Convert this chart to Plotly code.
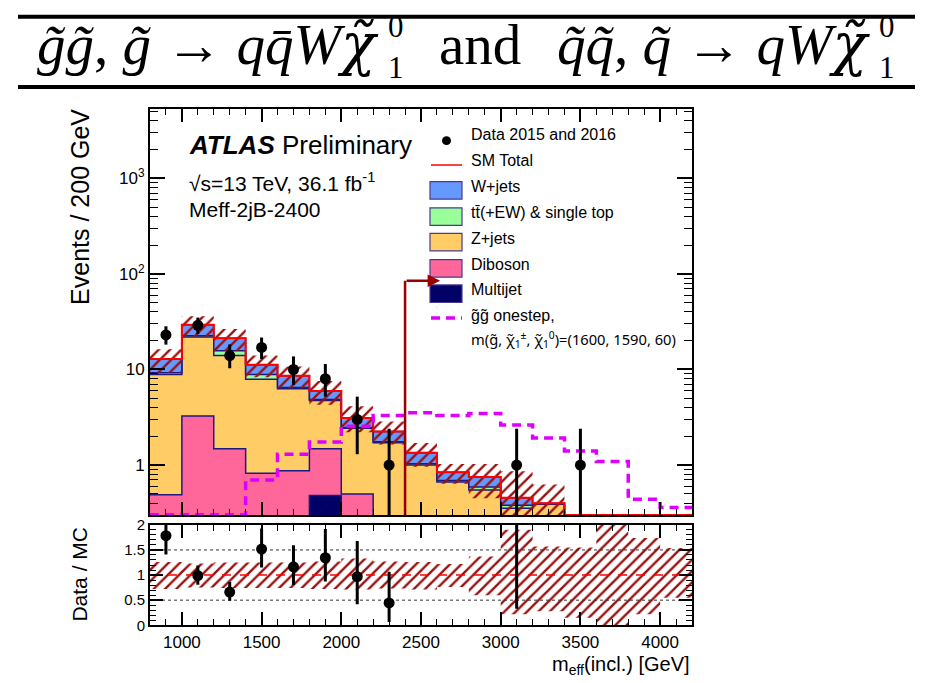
import math
import plotly.graph_objects as go

# ---------------- binning (200 GeV bins, 800-4200 GeV) ----------------
edges = [800, 1000, 1200, 1400, 1600, 1800, 2000, 2200, 2400, 2600,
         2800, 3000, 3200, 3400, 3600, 3800, 4000, 4200]
centers = [900, 1100, 1300, 1500, 1700, 1900, 2100, 2300, 2500, 2700,
           2900, 3100, 3300, 3500, 3700, 3900, 4100]

# ---------------- background expectations (events / bin) ----------------
multijet = [0, 0, 0, 0, 0, 0.48, 0, 0, 0, 0, 0, 0, 0, 0, 0, 0, 0]
diboson = [0.49, 3.26, 1.48, 0.82, 0.875, 1.0, 0.5, 0, 0, 0, 0, 0, 0, 0, 0, 0, 0]
zjets = [8.36, 18.64, 12.52, 7.08, 5.42, 3.27, 1.93, 1.71, 1.0, 0.665, 0.55, 0.354, 0.39, 0, 0, 0, 0]
ttbar = [0.42, 0.7, 1.7, 0.95, 0.2, 0.1, 0.05, 0.04, 0.03, 0.025, 0.04, 0.026, 0, 0, 0, 0, 0]
wjets = [3.63, 6.7, 5.5, 2.35, 2.1, 1.1, 0.62, 0.5, 0.32, 0.15, 0.16, 0.075, 0.008, 0, 0, 0, 0]

# relative MC uncertainty band (ratio units)
band_hi = [1.26, 1.23, 1.25, 1.25, 1.25, 1.27, 1.33, 1.27, 1.26, 1.22, 1.37, 1.90, 1.57, 1.55, 2.05, 1.74, 1.54]
band_lo = [0.72, 0.75, 0.74, 0.74, 0.74, 0.72, 0.71, 0.73, 0.71, 0.76, 0.60, 0.22, 0.28, 0.15, 0.0, 0.22, 0.55]

# ---------------- signal ----------------
signal = [0.15, 0.15, 0.15, 0.70, 1.30, 1.74, 2.55, 3.31, 3.52, 3.31, 3.47, 2.63, 1.92, 1.40, 1.09, 0.44, 0.36]

# ---------------- data ----------------
data = [23, 29, 14, 17, 10, 8, 3, 1, 0, 0, 0, 1, 0, 1, 0, 0, 0]
data_err_up = [5.3, 5.9, 4.3, 4.6, 3.7, 3.4, 2.2, 1.4, 0, 0, 0, 1.4, 0, 1.4, 0, 0, 0]
data_err_dn = [4.8, 5.4, 3.7, 4.1, 3.1, 2.8, 1.7, 0.85, 0, 0, 0, 0.85, 0, 0.85, 0, 0, 0]

SR_CUT = 2400
SR_ARROW_END = 2620
SR_ARROW_Y = 85

W, H = 933, 683
YMIN, YMAX_LOG = 0.3, 3.72
FLOOR = 1e-2


def px(x):
    return x / W


def py(y):
    return 1 - y / H


def step(v):
    return list(v) + [v[-1]]


def floored(v, lo=FLOOR):
    return [max(a, lo) for a in v]


fig = go.Figure()

# ---------------- stacked backgrounds ----------------
stack = [
    ("Multijet", multijet, "#000066"),
    ("Diboson", diboson, "#ff6699"),
    ("Z+jets", zjets, "#ffcc66"),
    ("ttbar", ttbar, "#99ff99"),
    ("W+jets", wjets, "#6699ff"),
]
OUTLINE = "#1a1a80"

fig.add_trace(go.Scatter(x=edges, y=step([FLOOR] * 17), mode="lines", line=dict(width=0, shape="hv"),
                         hoverinfo="skip", xaxis="x", yaxis="y"))
cum = [0.0] * 17
for name, vals, col in stack:
    cum = [c + v for c, v in zip(cum, vals)]
    fig.add_trace(go.Scatter(
        x=edges, y=step(floored(cum)), mode="lines", name=name,
        line=dict(color=OUTLINE, width=1.5, shape="hv"),
        fill="tonexty", fillcolor=col, xaxis="x", yaxis="y"))
total = cum

# ---------------- MC uncertainty band (main) ----------------
HATCH = "#9a1010"
PATTERN = dict(shape="/", fgcolor=HATCH, fgopacity=1, bgcolor="rgba(0,0,0,0)",
               size=8, solidity=0.3, fillmode="overlay")
band_main_lo = [max(t * l, FLOOR) if t > 0 else FLOOR for t, l in zip(total, band_lo)]
band_main_hi = [max(t * h, FLOOR) if t > 0 else FLOOR for t, h in zip(total, band_hi)]
fig.add_trace(go.Scatter(x=edges, y=step(band_main_lo), mode="lines", line=dict(width=0, shape="hv"),
                         hoverinfo="skip", xaxis="x", yaxis="y"))
fig.add_trace(go.Scatter(
    x=edges, y=step(band_main_hi), mode="lines", line=dict(width=0, shape="hv"),
    fill="tonexty", fillcolor="rgba(0,0,0,0)", fillpattern=PATTERN, xaxis="x", yaxis="y"))

# SM total (sits on the frame bottom where it falls below the axis range)
fig.add_trace(go.Scatter(x=edges, y=step(floored(total, YMIN * 1.005)), mode="lines",
                         line=dict(color="#ff0000", width=2, shape="hv"), xaxis="x", yaxis="y"))

# signal
SIG_COL = "#dd00ff"
SIG_DASH = "9px,6px"
fig.add_trace(go.Scatter(x=edges, y=step(floored(signal, YMIN * 1.01)), mode="lines",
                         line=dict(color=SIG_COL, width=3.5, dash=SIG_DASH, shape="hv"),
                         xaxis="x", yaxis="y"))

# signal-region cut arrow
fig.add_trace(go.Scatter(x=[SR_CUT, SR_CUT], y=[FLOOR, SR_ARROW_Y], mode="lines",
                         line=dict(color="#990000", width=2.5), xaxis="x", yaxis="y"))

# data
dx = [c for c, d in zip(centers, data) if d > 0]
dy = [d for d in data if d > 0]
deu = [e for e, d in zip(data_err_up, data) if d > 0]
ded = [e for e, d in zip(data_err_dn, data) if d > 0]
fig.add_trace(go.Scatter(x=dx, y=dy, mode="markers",
                         marker=dict(color="black", size=11),
                         error_y=dict(type="data", array=deu, arrayminus=ded, color="black", thickness=3, width=0),
                         xaxis="x", yaxis="y"))

# ---------------- ratio panel ----------------
fig.add_trace(go.Scatter(x=edges, y=step(band_lo), mode="lines", line=dict(width=0, shape="hv"),
                         hoverinfo="skip", xaxis="x2", yaxis="y2"))
fig.add_trace(go.Scatter(
    x=edges, y=step(band_hi), mode="lines", line=dict(width=0, shape="hv"),
    fill="tonexty", fillcolor="rgba(0,0,0,0)", fillpattern=PATTERN, xaxis="x2", yaxis="y2"))
for lvl in (0.5, 1.5):
    fig.add_trace(go.Scatter(x=[800, 4200], y=[lvl, lvl], mode="lines",
                             line=dict(color="#333333", width=1, dash="dot"), xaxis="x2", yaxis="y2"))
fig.add_trace(go.Scatter(x=[800, 4200], y=[1, 1], mode="lines",
                         line=dict(color="#ff0000", width=1.5, dash="dash"), xaxis="x2", yaxis="y2"))

rx, ry, reu, red = [], [], [], []
for c, d, t, eu, ed in zip(centers, data, total, data_err_up, data_err_dn):
    if d > 0 and t > 0:
        rx.append(c)
        ry.append(d / t)
        reu.append(eu / t)
        red.append(ed / t)
fig.add_trace(go.Scatter(x=rx, y=ry, mode="markers",
                         marker=dict(color="black", size=11),
                         error_y=dict(type="data", array=reu, arrayminus=red, color="black", thickness=3, width=0),
                         xaxis="x2", yaxis="y2"))

# ---------------- axes ----------------
TICKFONT = dict(family="Liberation Sans, Arial, sans-serif", size=17, color="black")
xdom = [px(150), px(692)]
minor_x = [v for v in range(800, 4201, 100) if v % 500 != 0]
log_minor = [m * 10 ** k for k in range(-1, 4) for m in range(2, 10) if 0.3 <= m * 10 ** k <= 5300]

common_x = dict(range=[800, 4200], showgrid=False, zeroline=False, showline=True, linecolor="black",
                linewidth=2, mirror="allticks", ticks="inside", ticklen=13, tickwidth=1.5, tickcolor="black",
                tickvals=[1000, 1500, 2000, 2500, 3000, 3500, 4000],
                minor=dict(tickvals=minor_x, ticks="inside", ticklen=6, tickwidth=1.2, tickcolor="black"))

fig.update_layout(
    width=W, height=H, margin=dict(l=0, r=0, t=0, b=0),
    paper_bgcolor="white", plot_bgcolor="white", showlegend=False,
    xaxis=dict(domain=xdom, anchor="y", showticklabels=False, **common_x),
    yaxis=dict(domain=[py(519), py(103)], anchor="x", type="log", range=[math.log10(YMIN), YMAX_LOG],
               showgrid=False, zeroline=False, showline=True, linecolor="black", linewidth=2,
               mirror="allticks", ticks="inside", ticklen=15, tickwidth=1.5, tickcolor="black",
               tickvals=[1, 10, 100, 1000], ticktext=["1", "10", "10<sup>2</sup>", "10<sup>3</sup>"],
               tickfont=TICKFONT,
               minor=dict(tickvals=log_minor, ticks="inside", ticklen=8, tickwidth=1.2, tickcolor="black")),
    xaxis2=dict(domain=xdom, anchor="y2", tickfont=TICKFONT, **common_x),
    yaxis2=dict(domain=[py(632), py(529)], anchor="x2", range=[0, 2],
                showgrid=False, zeroline=False, showline=True, linecolor="black", linewidth=2,
                mirror="allticks", ticks="inside", ticklen=13, tickwidth=1.5, tickcolor="black",
                tickvals=[0, 0.5, 1, 1.5, 2], ticktext=["0", "0.5", "1", "1.5", "2"],
                tickfont=dict(family="Liberation Sans, Arial, sans-serif", size=15, color="black"),
                minor=dict(dtick=0.1, ticks="inside", ticklen=6, tickwidth=1.2, tickcolor="black")),
)

# ---------------- text ----------------
SANS = "Liberation Sans, Arial, sans-serif"
SERIF = "Liberation Serif, Times New Roman, serif"
ann = []


def text(x, y, s, size, xanchor="left", yanchor="middle", family=SANS, angle=0):
    ann.append(dict(x=px(x), y=py(y), xref="paper", yref="paper", text=s, showarrow=False,
                    xanchor=xanchor, yanchor=yanchor, textangle=angle,
                    font=dict(family=family, size=size, color="black")))


# title: two decay chains, each neutralino with stacked super/subscript
TY = 36
TS = 57
CHI = "<span style='font-family:DejaVu Serif'>χ̃</span>"
text(381, TY, f"<i>g̃g̃</i>, <i>g̃</i> → <i>qq̄W{CHI}</i>", TS, xanchor="right", family=SERIF)
text(396, 18, "0", 31, xanchor="center", family=SERIF)
text(396, 60, "1", 31, xanchor="center", family=SERIF)
text(437, TY, "and", TS, xanchor="left", family=SERIF)
text(872, TY, f"<i>q̃q̃</i>, <i>q̃</i> → <i>qW{CHI}</i>", TS, xanchor="right", family=SERIF)
text(887, 18, "0", 31, xanchor="center", family=SERIF)
text(887, 60, "1", 31, xanchor="center", family=SERIF)

# labels in the frame
text(187, 139, "<b><i>ATLAS</i></b> Preliminary", 26)
text(187, 177, "√s=13 TeV, 36.1 fb<sup>-1</sup>", 21)
text(187, 206, "Meff-2jB-2400", 21)

# legend
leg_rows = [
    (129, "Data 2015 and 2016", SANS, 16),
    (155, "SM Total", SANS, 16),
    (182, "W+jets", SANS, 16),
    (209, "tt̄(+EW) & single top", SANS, 16),
    (235, "Z+jets", SANS, 16),
    (262, "Diboson", SANS, 16),
    (288, "Multijet", SANS, 16),
    (314, "g̃g̃ onestep,", SANS, 16),
    (339, "m(g̃, χ̃<sub>1</sub><sup>±</sup>, χ̃<sub>1</sub><sup>0</sup>)=(1600, 1590, 60)",
     "Noto Sans, DejaVu Sans, sans-serif", 14.7),
]
for yy, s, fam, sz in leg_rows:
    text(469, yy, s, sz, family=fam)

# axis titles
text(80, 203, "Events / 200 GeV", 25, xanchor="center", angle=-90)
text(80, 580, "Data / MC", 21, xanchor="center", angle=-90)
text(692, 673, "m<sub>eff</sub>(incl.) [GeV]", 20, xanchor="right")

# signal-region arrow head
ann.append(dict(x=SR_ARROW_END, y=math.log10(SR_ARROW_Y), ax=SR_CUT, ay=math.log10(SR_ARROW_Y),
                xref="x", yref="y", axref="x", ayref="y", text="", showarrow=True,
                arrowhead=2, arrowsize=1, arrowwidth=2.5, arrowcolor="#990000", standoff=0, startstandoff=0))

fig.update_layout(annotations=ann)

# ---------------- shapes: title rules and legend keys ----------------
shapes = [
    dict(type="line", xref="paper", yref="paper", x0=px(18), x1=px(915), y0=py(8), y1=py(8),
         line=dict(color="black", width=4)),
    dict(type="line", xref="paper", yref="paper", x0=px(18), x1=px(915), y0=py(80), y1=py(80),
         line=dict(color="black", width=4)),
    dict(type="circle", xref="paper", yref="paper", x0=px(442), x1=px(451), y0=py(139.5), y1=py(130.5),
         fillcolor="black", line=dict(color="black", width=0)),
    dict(type="line", xref="paper", yref="paper", x0=px(431), x1=px(462), y0=py(160), y1=py(160),
         line=dict(color="#ff0000", width=1.5)),
    dict(type="line", xref="paper", yref="paper", x0=px(431), x1=px(462), y0=py(317), y1=py(317),
         line=dict(color=SIG_COL, width=3.5, dash=SIG_DASH)),
]
for yy, col in [(186, "#6699ff"), (213, "#99ff99"), (239, "#ffcc66"), (266, "#ff6699"), (292, "#000066")]:
    shapes.append(dict(type="rect", xref="paper", yref="paper", x0=px(430), x1=px(462),
                       y0=py(yy + 9), y1=py(yy - 9), fillcolor=col, line=dict(color="#4b3a8c", width=1.2)))
fig.update_layout(shapes=shapes)

fig.write_html("out.html")
